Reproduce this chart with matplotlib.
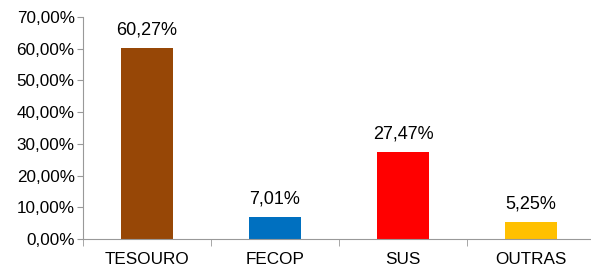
import matplotlib
matplotlib.use("Agg")
import matplotlib.pyplot as plt
from matplotlib.ticker import FuncFormatter, MultipleLocator

categories = ["TESOURO", "FECOP", "SUS", "OUTRAS"]
values = [60.27, 7.01, 27.47, 5.25]
colors = ["#974706", "#0070C0", "#FF0000", "#FFC000"]

plt.rcParams["font.family"] = ["Liberation Sans", "DejaVu Sans"]

fig = plt.figure(figsize=(5.91, 2.70), dpi=100)
ax = fig.add_axes([83 / 591, 31 / 270, 512 / 591, 222 / 270])

x = range(len(categories))
bars = ax.bar(x, values, width=0.41, color=colors)

for xi, v in zip(x, values):
    ax.annotate(f"{v:.2f}%".replace(".", ","), (xi, v), xytext=(0, 7),
                textcoords="offset points", ha="center", va="bottom", fontsize=13)

ax.set_xlim(-0.5, 3.5)
ax.set_ylim(0, 70)
ax.yaxis.set_major_locator(MultipleLocator(10))
ax.yaxis.set_major_formatter(FuncFormatter(lambda v, p: f"{v:.2f}%".replace(".", ",")))
ax.set_xticks(list(x))
ax.set_xticklabels(categories)
ax.set_xticks([i - 0.5 for i in range(len(categories) + 1)], minor=True)
ax.tick_params(axis="x", which="major", length=0, pad=9, labelsize=12.3)
ax.tick_params(axis="x", which="minor", length=5, color="#999999", direction="out")
ax.tick_params(axis="y", length=4, color="#999999", labelsize=12.3, pad=2)

for side in ["top", "right"]:
    ax.spines[side].set_visible(False)
for side in ["left", "bottom"]:
    ax.spines[side].set_color("#999999")

fig.savefig("out.png", dpi=100)
